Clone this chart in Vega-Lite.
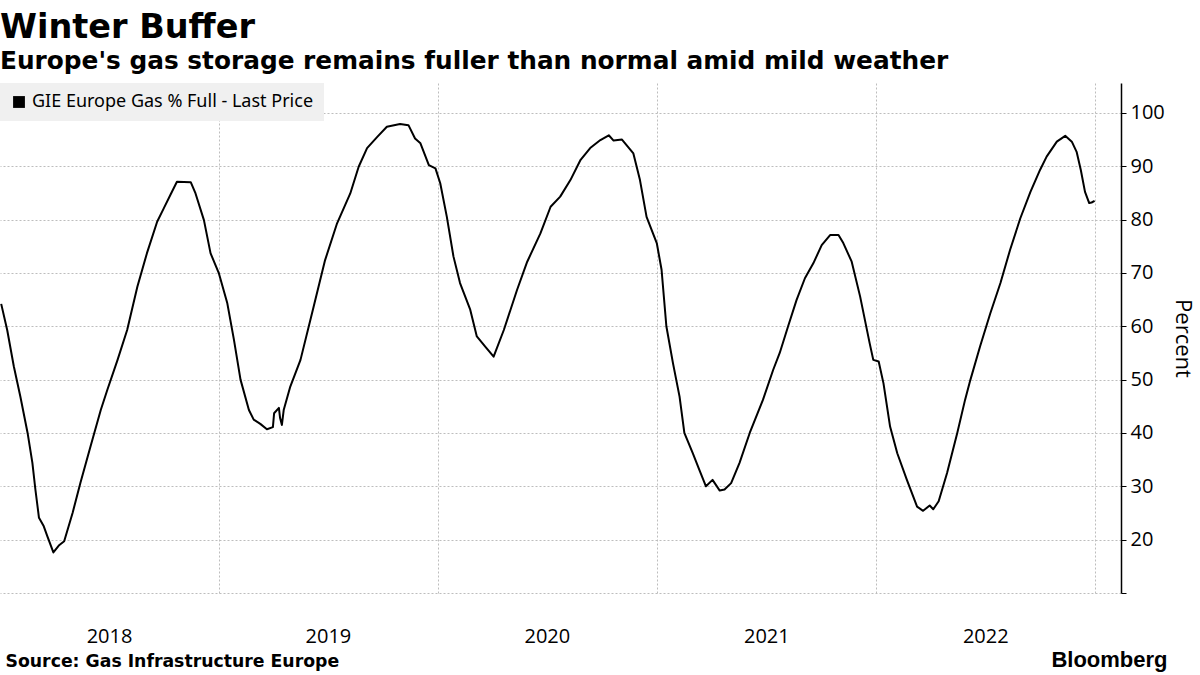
{
  "$schema": "https://vega.github.io/schema/vega-lite/v6.json",
  "width": 1121,
  "height": 510,
  "autosize": {"type": "none"},
  "padding": {"left": 0, "top": 83, "right": 79, "bottom": 82},
  "background": "white",
  "title": {
    "text": "Winter Buffer",
    "subtitle": "Europe's gas storage remains fuller than normal amid mild weather",
    "anchor": "start",
    "frame": "group",
    "font": "DejaVu Sans",
    "fontSize": 33.5,
    "fontWeight": "bold",
    "color": "#000000",
    "subtitleFont": "DejaVu Sans",
    "subtitleFontSize": 24.8,
    "subtitleFontWeight": "bold",
    "subtitleColor": "#000000",
    "subtitlePadding": 4,
    "offset": 8
  },
  "config": {"view": {"stroke": null}},
  "data": {
    "values": [
      {"date": "2018-01-03", "pct": 64.2},
      {"date": "2018-01-13", "pct": 59.3},
      {"date": "2018-01-24", "pct": 52.5},
      {"date": "2018-02-04", "pct": 46.8},
      {"date": "2018-02-16", "pct": 40.0},
      {"date": "2018-02-24", "pct": 34.4},
      {"date": "2018-03-01", "pct": 29.4},
      {"date": "2018-03-07", "pct": 24.1},
      {"date": "2018-03-15", "pct": 22.5},
      {"date": "2018-03-21", "pct": 20.6},
      {"date": "2018-03-31", "pct": 17.6},
      {"date": "2018-04-09", "pct": 18.9},
      {"date": "2018-04-18", "pct": 19.7},
      {"date": "2018-05-02", "pct": 25.0},
      {"date": "2018-05-15", "pct": 30.6},
      {"date": "2018-06-01", "pct": 37.5},
      {"date": "2018-06-18", "pct": 44.3},
      {"date": "2018-06-29", "pct": 48.1},
      {"date": "2018-07-16", "pct": 53.7},
      {"date": "2018-08-01", "pct": 59.3},
      {"date": "2018-08-18", "pct": 67.4},
      {"date": "2018-09-03", "pct": 73.7},
      {"date": "2018-09-20", "pct": 79.6},
      {"date": "2018-10-01", "pct": 82.1},
      {"date": "2018-10-12", "pct": 84.6},
      {"date": "2018-10-23", "pct": 87.1},
      {"date": "2018-11-15", "pct": 87.0},
      {"date": "2018-11-23", "pct": 84.9},
      {"date": "2018-12-07", "pct": 79.9},
      {"date": "2018-12-18", "pct": 73.7},
      {"date": "2019-01-01", "pct": 69.9},
      {"date": "2019-01-15", "pct": 64.3},
      {"date": "2019-01-26", "pct": 57.5},
      {"date": "2019-02-06", "pct": 50.0},
      {"date": "2019-02-20", "pct": 44.3},
      {"date": "2019-02-28", "pct": 42.5},
      {"date": "2019-03-11", "pct": 41.7},
      {"date": "2019-03-22", "pct": 40.7},
      {"date": "2019-04-01", "pct": 41.1},
      {"date": "2019-04-03", "pct": 43.7},
      {"date": "2019-04-11", "pct": 44.7},
      {"date": "2019-04-13", "pct": 42.8},
      {"date": "2019-04-16", "pct": 41.5},
      {"date": "2019-04-19", "pct": 44.3},
      {"date": "2019-04-30", "pct": 48.7},
      {"date": "2019-05-17", "pct": 53.7},
      {"date": "2019-06-08", "pct": 63.7},
      {"date": "2019-06-27", "pct": 72.4},
      {"date": "2019-07-17", "pct": 79.3},
      {"date": "2019-08-08", "pct": 84.9},
      {"date": "2019-08-22", "pct": 89.9},
      {"date": "2019-09-05", "pct": 93.4},
      {"date": "2019-09-22", "pct": 95.5},
      {"date": "2019-10-08", "pct": 97.4},
      {"date": "2019-10-30", "pct": 97.9},
      {"date": "2019-11-13", "pct": 97.7},
      {"date": "2019-11-24", "pct": 95.2},
      {"date": "2019-12-03", "pct": 94.3},
      {"date": "2019-12-17", "pct": 90.2},
      {"date": "2019-12-28", "pct": 89.6},
      {"date": "2020-01-05", "pct": 86.8},
      {"date": "2020-01-16", "pct": 80.5},
      {"date": "2020-01-27", "pct": 73.1},
      {"date": "2020-02-07", "pct": 68.1},
      {"date": "2020-02-24", "pct": 63.1},
      {"date": "2020-03-06", "pct": 58.1},
      {"date": "2020-03-20", "pct": 56.2},
      {"date": "2020-04-03", "pct": 54.3},
      {"date": "2020-04-20", "pct": 59.3},
      {"date": "2020-05-12", "pct": 66.8},
      {"date": "2020-05-29", "pct": 72.1},
      {"date": "2020-06-20", "pct": 77.4},
      {"date": "2020-07-07", "pct": 82.4},
      {"date": "2020-07-23", "pct": 84.3},
      {"date": "2020-08-09", "pct": 87.4},
      {"date": "2020-08-26", "pct": 91.2},
      {"date": "2020-09-11", "pct": 93.4},
      {"date": "2020-09-28", "pct": 94.9},
      {"date": "2020-10-12", "pct": 95.8},
      {"date": "2020-10-20", "pct": 94.8},
      {"date": "2020-11-03", "pct": 95.0},
      {"date": "2020-11-22", "pct": 92.4},
      {"date": "2020-12-03", "pct": 87.4},
      {"date": "2020-12-14", "pct": 80.5},
      {"date": "2020-12-31", "pct": 75.6},
      {"date": "2021-01-08", "pct": 70.6},
      {"date": "2021-01-16", "pct": 60.0},
      {"date": "2021-01-27", "pct": 53.1},
      {"date": "2021-02-07", "pct": 46.8},
      {"date": "2021-02-15", "pct": 40.0},
      {"date": "2021-03-01", "pct": 36.2},
      {"date": "2021-03-12", "pct": 33.1},
      {"date": "2021-03-23", "pct": 30.0},
      {"date": "2021-04-03", "pct": 31.2},
      {"date": "2021-04-15", "pct": 29.2},
      {"date": "2021-04-23", "pct": 29.4},
      {"date": "2021-05-04", "pct": 30.6},
      {"date": "2021-05-18", "pct": 34.4},
      {"date": "2021-06-04", "pct": 40.0},
      {"date": "2021-06-26", "pct": 46.2},
      {"date": "2021-07-13", "pct": 51.8},
      {"date": "2021-07-24", "pct": 55.0},
      {"date": "2021-08-07", "pct": 60.0},
      {"date": "2021-08-21", "pct": 64.9},
      {"date": "2021-09-04", "pct": 69.0},
      {"date": "2021-09-18", "pct": 71.8},
      {"date": "2021-10-02", "pct": 75.2},
      {"date": "2021-10-16", "pct": 77.1},
      {"date": "2021-10-30", "pct": 77.1},
      {"date": "2021-11-07", "pct": 75.6},
      {"date": "2021-11-21", "pct": 72.1},
      {"date": "2021-12-05", "pct": 65.6},
      {"date": "2021-12-21", "pct": 56.8},
      {"date": "2021-12-27", "pct": 53.7},
      {"date": "2022-01-05", "pct": 53.4},
      {"date": "2022-01-13", "pct": 49.3},
      {"date": "2022-01-24", "pct": 41.2},
      {"date": "2022-02-05", "pct": 36.2},
      {"date": "2022-02-21", "pct": 31.2},
      {"date": "2022-03-10", "pct": 26.2},
      {"date": "2022-03-20", "pct": 25.4},
      {"date": "2022-03-31", "pct": 26.4},
      {"date": "2022-04-06", "pct": 25.7},
      {"date": "2022-04-15", "pct": 27.2},
      {"date": "2022-04-29", "pct": 32.5},
      {"date": "2022-05-16", "pct": 40.0},
      {"date": "2022-05-29", "pct": 46.2},
      {"date": "2022-06-07", "pct": 50.0},
      {"date": "2022-06-23", "pct": 56.2},
      {"date": "2022-07-10", "pct": 62.4},
      {"date": "2022-07-27", "pct": 68.1},
      {"date": "2022-08-12", "pct": 74.3},
      {"date": "2022-08-29", "pct": 80.2},
      {"date": "2022-09-15", "pct": 85.2},
      {"date": "2022-10-01", "pct": 89.3},
      {"date": "2022-10-12", "pct": 91.8},
      {"date": "2022-10-29", "pct": 94.6},
      {"date": "2022-11-12", "pct": 95.7},
      {"date": "2022-11-23", "pct": 94.6},
      {"date": "2022-12-01", "pct": 92.7},
      {"date": "2022-12-08", "pct": 89.3},
      {"date": "2022-12-15", "pct": 85.2},
      {"date": "2022-12-22", "pct": 83.1},
      {"date": "2022-12-26", "pct": 83.2},
      {"date": "2022-12-31", "pct": 83.5}
    ]
  },
  "layer": [
    {
      "mark": {"type": "line", "strokeWidth": 2, "strokeJoin": "round"},
      "encoding": {
        "x": {
          "field": "date",
          "type": "temporal",
          "scale": {
            "type": "utc",
            "domain": [
              {"year": 2018, "month": 1, "date": 1, "utc": true},
              {"year": 2023, "month": 2, "date": 13, "utc": true}
            ]
          },
          "axis": {
            "orient": "bottom",
            "values": [
              {"year": 2018, "month": 1, "date": 1, "utc": true},
              {"year": 2019, "month": 1, "date": 1, "utc": true},
              {"year": 2020, "month": 1, "date": 1, "utc": true},
              {"year": 2021, "month": 1, "date": 1, "utc": true},
              {"year": 2022, "month": 1, "date": 1, "utc": true},
              {"year": 2023, "month": 1, "date": 1, "utc": true}
            ],
            "grid": true,
            "gridColor": "#bdbdbd",
            "gridDash": [2, 2],
            "gridWidth": 1,
            "gridOpacity": {"condition": {"test": "utcFormat(datum.value, '%Y') == '2018'", "value": 0}, "value": 1},
            "ticks": false,
            "domain": false,
            "labelExpr": "utcFormat(datum.value, '%Y') == '2023' ? '' : utcFormat(datum.value, '%Y')",
            "labelOffset": 109,
            "labelPadding": 33,
            "labelFont": "Open Sans",
            "labelFontSize": 20,
            "labelColor": "#000000",
            "labelOverlap": false,
            "labelBound": false,
            "labelFlush": false,
            "title": "Source: Gas Infrastructure Europe",
            "titleX": 5,
            "titleY": 73,
            "titleAlign": "left",
            "titleAnchor": "start",
            "titleBaseline": "alphabetic",
            "titleFont": "DejaVu Sans",
            "titleFontSize": 17.3,
            "titleFontWeight": "bold",
            "titleColor": "#000000"
          }
        },
        "y": {
          "field": "pct",
          "type": "quantitative",
          "title": "Percent",
          "scale": {"domain": [10, 105.6], "nice": false, "zero": false},
          "axis": {
            "orient": "right",
            "values": [10, 15, 20, 25, 30, 35, 40, 45, 50, 55, 60, 65, 70, 75, 80, 85, 90, 95, 100, 105],
            "grid": true,
            "gridColor": "#bdbdbd",
            "gridDash": [2, 2],
            "gridWidth": 1,
            "gridOpacity": {"condition": {"test": "datum.value % 10 == 0 && datum.value <= 100", "value": 1}, "value": 0},
            "labelExpr": "datum.value % 10 == 0 && datum.value >= 20 && datum.value <= 100 ? datum.label : ''",
            "tickSize": 5,
            "tickColor": "#000000",
            "tickWidth": 1,
            "domainColor": "#000000",
            "domainWidth": 1.5,
            "labelPadding": 4,
            "labelFont": "Open Sans",
            "labelFontSize": 20,
            "labelColor": "#000000",
            "labelOverlap": false,
            "labelFlush": false,
            "titleAngle": 90,
            "titleFont": "Open Sans",
            "titleFontSize": 22,
            "titleFontWeight": "normal",
            "titleColor": "#000000",
            "titlePadding": 6
          }
        },
        "color": {
          "datum": "GIE Europe Gas % Full - Last Price",
          "scale": {"range": ["#000000"]},
          "legend": {
            "title": null,
            "orient": "none",
            "legendX": 0,
            "legendY": 0,
            "fillColor": "#f0f0f0",
            "padding": 10,
            "symbolType": "square",
            "symbolSize": 140,
            "symbolFillColor": "#000000",
            "symbolStrokeColor": "#000000",
            "symbolStrokeWidth": 0,
            "labelFont": "Noto Sans",
            "labelFontSize": 18,
            "labelColor": "#000000",
            "labelLimit": 400
          }
        }
      }
    },
    {
      "mark": {"type": "line", "opacity": 0},
      "encoding": {
        "x": {
          "field": "date",
          "type": "temporal",
          "scale": {
            "type": "utc",
            "domain": [
              {"year": 2018, "month": 1, "date": 1, "utc": true},
              {"year": 2023, "month": 2, "date": 13, "utc": true}
            ]
          },
          "axis": {
            "orient": "bottom",
            "grid": false,
            "ticks": false,
            "domain": false,
            "labels": false,
            "title": "Bloomberg",
            "titleX": 1167,
            "titleY": 73,
            "titleAlign": "right",
            "titleBaseline": "alphabetic",
            "titleFont": "Liberation Sans",
            "titleFontSize": 22,
            "titleFontWeight": "bold",
            "titleColor": "#000000"
          }
        },
        "y": {
          "field": "pct",
          "type": "quantitative",
          "title": "Percent"
        }
      }
    }
  ],
  "resolve": {"axis": {"x": "independent"}}
}
